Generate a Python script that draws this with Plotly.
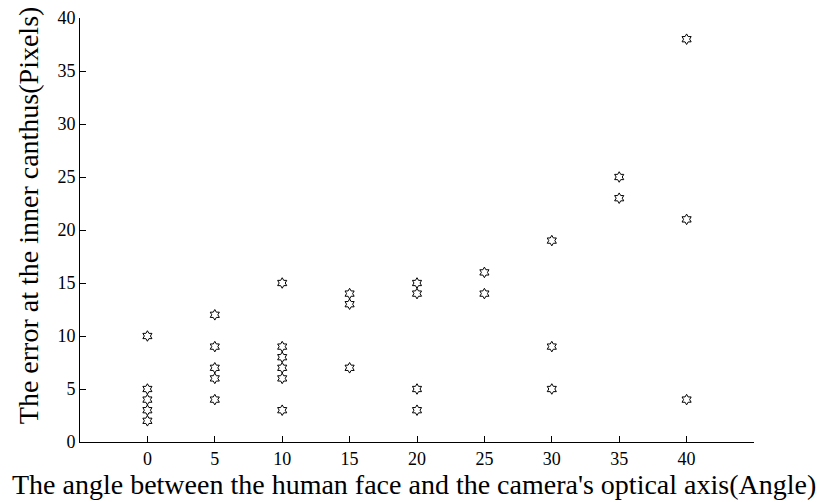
import plotly.graph_objects as go

angles = [0, 0, 0, 0, 0,
          5, 5, 5, 5, 5,
          10, 10, 10, 10, 10, 10,
          15, 15, 15,
          20, 20, 20, 20,
          25, 25,
          30, 30, 30,
          35, 35,
          40, 40, 40]
errors = [10, 5, 4, 3, 2,
          12, 9, 7, 6, 4,
          15, 9, 8, 7, 6, 3,
          14, 13, 7,
          15, 14, 5, 3,
          16, 14,
          19, 9, 5,
          25, 23,
          38, 21, 4]

x_ticks = [0, 5, 10, 15, 20, 25, 30, 35, 40, 45]
x_ticktext = ["0", "5", "10", "15", "20", "25", "30", "35", "40", ""]
y_ticks = [0, 5, 10, 15, 20, 25, 30, 35, 40]

x_title = "The angle between the human face and the camera's optical axis(Angle)"
y_title = "The error at the inner canthus(Pixels)"

font_family = "Liberation Serif, Times New Roman, serif"

fig = go.Figure(go.Scatter(
    x=angles, y=errors, mode="markers",
    marker=dict(symbol="hexagram-open", size=8, color="black",
                line=dict(color="black", width=1)),
    showlegend=False,
))

# page has an 8px body margin, so the figure is sized/margined to compensate
fig.update_layout(
    width=820, height=494,
    margin=dict(l=72, r=74, t=10, b=60),
    paper_bgcolor="white", plot_bgcolor="white",
    font=dict(family=font_family, color="black", size=18),
    annotations=[
        dict(text=y_title, xref="paper", yref="paper", x=0, y=0.535,
             xanchor="center", yanchor="middle", xshift=-52, textangle=-90,
             showarrow=False, font=dict(size=28)),
        dict(text=x_title, xref="paper", yref="paper", x=0.4955, y=0,
             xanchor="center", yanchor="bottom", yshift=-59, borderpad=0,
             showarrow=False, font=dict(size=28)),
    ],
)
fig.update_xaxes(
    range=[-5, 45], tickvals=x_ticks, ticktext=x_ticktext,
    ticks="inside", ticklen=6, tickcolor="black",
    showline=True, linecolor="black", linewidth=1,
    showgrid=False, zeroline=False, automargin=False,
    tickfont=dict(size=18),
)
fig.update_yaxes(
    range=[0, 40], tickvals=y_ticks,
    ticks="inside", ticklen=6, tickcolor="black",
    showline=True, linecolor="black", linewidth=1,
    showgrid=False, zeroline=False, automargin=False,
    tickfont=dict(size=18),
)

fig.write_html("out.html")
